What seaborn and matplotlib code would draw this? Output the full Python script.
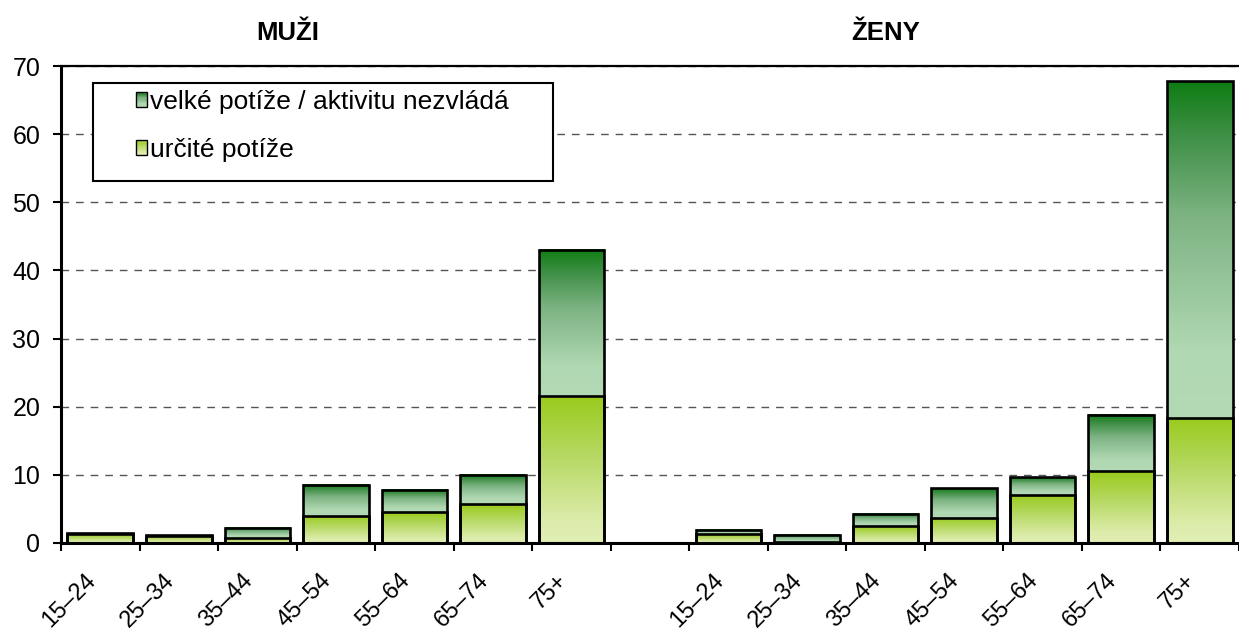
import numpy as np
import pandas as pd
import matplotlib
matplotlib.use("Agg")
import matplotlib.pyplot as plt
import seaborn as sns
from matplotlib.colors import LinearSegmentedColormap
from matplotlib.patches import Rectangle
from matplotlib.legend_handler import HandlerBase

# data (%)
vekove_skupiny = ["15–24", "25–34", "35–44", "45–54", "55–64", "65–74", "75+"]
muzi_urcite = [1.3, 1.1, 0.7, 4.0, 4.5, 5.7, 21.5]
muzi_velke = [0.1, 0.05, 1.5, 4.55, 3.3, 4.3, 21.5]
zeny_urcite = [1.3, 0.1, 2.45, 3.7, 7.05, 10.5, 18.4]
zeny_velke = [0.65, 1.05, 1.85, 4.4, 2.6, 8.35, 49.4]
popisky = ["velké potíže / aktivitu nezvládá", "určité potíže"]

sns.set_style("white", {"text.color": "black", "xtick.color": "black",
                        "ytick.color": "black", "axes.labelcolor": "black"})
plt.rcParams["font.family"] = ["Liberation Sans", "DejaVu Sans"]

kat_m = ["M " + v for v in vekove_skupiny]
kat_z = ["Z " + v for v in vekove_skupiny]
poradi = kat_m + ["mezera"] + kat_z

df = pd.DataFrame({
    "kat": kat_m + kat_z,
    "urcite": muzi_urcite + zeny_urcite,
    "velke": muzi_velke + zeny_velke,
})
df["celkem"] = df["urcite"] + df["velke"]

fig = plt.figure(figsize=(12.39, 6.35), dpi=100)
ax = fig.add_axes([61 / 1239, 92 / 635, 1 - 61 / 1239, 477 / 635])

# celkova vyska (horni cast) a pod ni urcite potize
sns.barplot(data=df, x="kat", y="celkem", order=poradi, width=0.835, errorbar=None,
            color="white", edgecolor="black", linewidth=1.9, ax=ax)
sns.barplot(data=df, x="kat", y="urcite", order=poradi, width=0.835, errorbar=None,
            color="white", edgecolor="black", linewidth=1.9, ax=ax)

cmap_velke = LinearSegmentedColormap.from_list("velke", [
    (0, "#b3d9b5"), (0.2, "#b0d8b2"), (0.6, "#7db383"), (0.85, "#3c8e43"), (1, "#0e7d12")])
cmap_urcite = LinearSegmentedColormap.from_list("urcite", [
    (0, "#e1efb4"), (0.15, "#dcecaa"), (0.6, "#b6d862"), (1, "#99cb1c")])
grad = np.linspace(0, 1, 256).reshape(-1, 1)


def vypln(bar, y0, y1, cmap):
    if y1 - y0 <= 0:
        return
    x0 = bar.get_x()
    w = bar.get_width()
    ax.imshow(grad, extent=[x0, x0 + w, y0, y1], origin="lower", aspect="auto",
              cmap=cmap, vmin=0, vmax=1, zorder=0.9, interpolation="bilinear")


horni = {round(b.get_x(), 3): b for b in ax.containers[0]}
for b in ax.containers[1]:
    t = horni[round(b.get_x(), 3)]
    vypln(b, 0, b.get_height(), cmap_urcite)
    vypln(t, b.get_height(), t.get_height(), cmap_velke)
for c in ax.containers:
    for b in c:
        b.set_facecolor("none")
        b.set_zorder(1)

ax.set_xlim(-0.5, 14.42)
ax.set_ylim(0, 70)
ax.set_yticks(range(0, 71, 10))
# popisky trochu vlevo od stredu kategorie
ax.set_xticks(np.arange(15) - 0.2)
ax.set_xticklabels(vekove_skupiny + [""] + vekove_skupiny, rotation=45,
                   ha="right", va="top", rotation_mode="anchor", fontsize=17)
ax.set_xticks(np.arange(-0.5, 15, 1), minor=True)
ax.tick_params(axis="x", which="major", bottom=True, length=0, pad=19)
ax.tick_params(axis="x", which="minor", bottom=True, length=6, width=1.5,
               direction="out", color="black")
ax.tick_params(axis="y", left=True, length=6, width=1.5, direction="out",
               color="black", labelsize=18, pad=9)
ax.set_xlabel("")
ax.set_ylabel("")

ax.yaxis.grid(True, linestyle=(0, (5.5, 5)), color="#555555", linewidth=1.0)
ax.xaxis.grid(False)
ax.set_axisbelow(True)

ax.spines["right"].set_visible(False)
for s in ["left", "bottom"]:
    ax.spines[s].set_linewidth(2.2)
    ax.spines[s].set_color("black")
ax.spines["top"].set_linewidth(1.6)
ax.spines["top"].set_color("black")

fig.text(288 / 1239, 1 - 40 / 635, "MUŽI", ha="center", va="baseline",
         fontsize=18.5, fontweight="bold")
fig.text(886 / 1239, 1 - 40 / 635, "ŽENY", ha="center", va="baseline",
         fontsize=18.5, fontweight="bold")


class GradientHandler(HandlerBase):
    def __init__(self, cmap):
        super().__init__()
        self.cmap = cmap

    def create_artists(self, legend, orig_handle, xdescent, ydescent, width, height,
                       fontsize, trans):
        n = 12
        arts = []
        for i in range(n):
            arts.append(Rectangle((-xdescent, -ydescent + height * i / n), width, height / n,
                                  facecolor=self.cmap((i + 0.5) / n), edgecolor="none",
                                  transform=trans))
        arts.append(Rectangle((-xdescent, -ydescent), width, height, facecolor="none",
                              edgecolor="black", linewidth=1.0, transform=trans))
        return arts


ramecek = Rectangle((93 / 1239, 1 - 181 / 635), 460 / 1239, 98 / 635,
                    transform=fig.transFigure, facecolor="white", edgecolor="black",
                    linewidth=1.5, zorder=5, clip_on=False)
ax.add_patch(ramecek)

h1 = Rectangle((0, 0), 1, 1)
h2 = Rectangle((0, 0), 1, 1)
leg = ax.legend(handles=[h1, h2], labels=popisky,
                handler_map={h1: GradientHandler(cmap_velke), h2: GradientHandler(cmap_urcite)},
                loc="upper left", bbox_to_anchor=(136 / 1239, 1 - 90 / 635),
                bbox_transform=fig.transFigure, frameon=False, fontsize=19,
                labelspacing=0.9, handlelength=0.43, handleheight=0.5,
                handletextpad=0.1, borderpad=0, borderaxespad=0)
leg.set_zorder(6)

fig.savefig("out.png", dpi=100)
